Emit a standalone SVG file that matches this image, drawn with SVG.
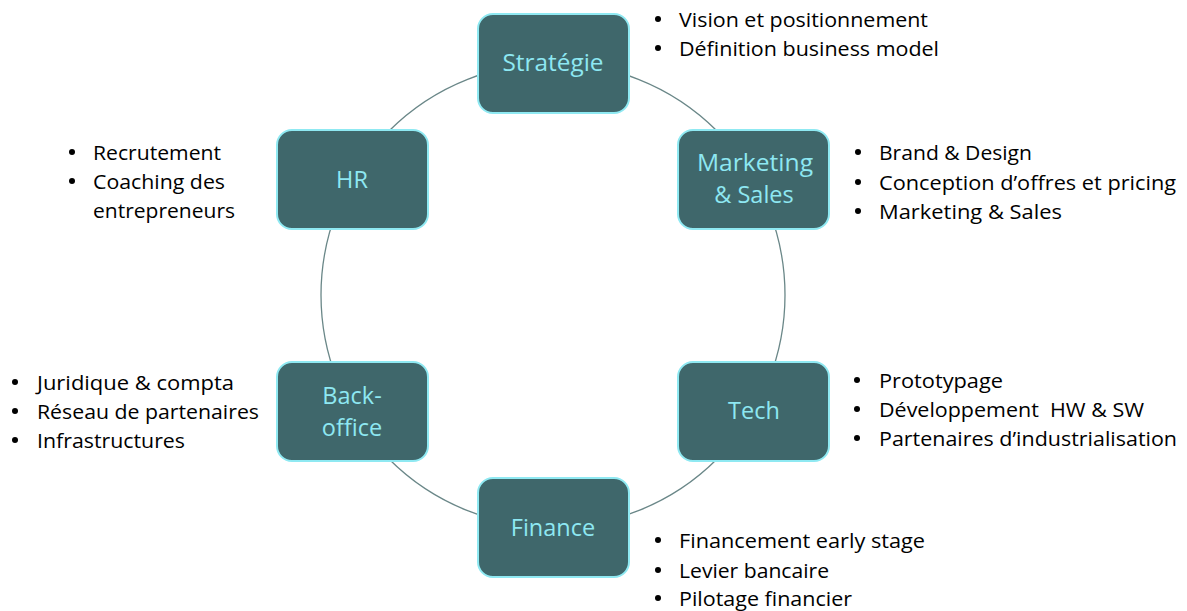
<svg xmlns="http://www.w3.org/2000/svg" width="1187" height="611" viewBox="0 0 1187 611">
<style>
.node rect{fill:#3f676b;stroke:#8fe9f2;stroke-width:2}
.node text{fill:#8ee8f2;font-family:"Open Sans","Noto Sans",sans-serif;font-size:23.5px;text-anchor:middle}
.b text{fill:#000;font-family:"Open Sans","Noto Sans",sans-serif;font-size:20.5px}
.b circle{fill:#000}
.conn{fill:none;stroke:#6a8788;stroke-width:1.3}
</style>
<rect width="1187" height="611" fill="#fff"/>
<g id="connectors">
<circle class="conn" cx="553" cy="295" r="232"/>
</g>
<g id="strategie" class="node">
<rect x="478" y="14" width="151" height="99" rx="15"/>
<text x="553" y="71" textLength="101" lengthAdjust="spacingAndGlyphs">Stratégie</text>
</g>
<g id="marketing" class="node">
<rect x="678" y="130" width="151" height="99" rx="15"/>
<text x="755" y="171" textLength="116" lengthAdjust="spacingAndGlyphs">Marketing</text>
<text x="754" y="203">&amp; Sales</text>
</g>
<g id="hr" class="node">
<rect x="277" y="130" width="151" height="99" rx="15"/>
<text x="352" y="188">HR</text>
</g>
<g id="backoffice" class="node">
<rect x="277" y="362" width="151" height="99" rx="15"/>
<text x="352" y="404">Back-</text>
<text x="352" y="436">office</text>
</g>
<g id="tech" class="node">
<rect x="678" y="362" width="151" height="99" rx="15"/>
<text x="754" y="419">Tech</text>
</g>
<g id="finance" class="node">
<rect x="478" y="478" width="151" height="99" rx="15"/>
<text x="553" y="536">Finance</text>
</g>
<g id="texts" class="b">
<circle cx="658" cy="19" r="3"/><text x="679" y="27" textLength="249" lengthAdjust="spacingAndGlyphs">Vision et positionnement</text>
<circle cx="658" cy="48" r="3"/><text x="679" y="56" textLength="260" lengthAdjust="spacingAndGlyphs">Définition business model</text>
<circle cx="858" cy="152" r="3"/><text x="879" y="160" textLength="153" lengthAdjust="spacingAndGlyphs">Brand &amp; Design</text>
<circle cx="858" cy="182" r="3"/><text x="879" y="190" textLength="297" lengthAdjust="spacingAndGlyphs">Conception d’offres et pricing</text>
<circle cx="858" cy="211" r="3"/><text x="879" y="219" textLength="183" lengthAdjust="spacingAndGlyphs">Marketing &amp; Sales</text>
<circle cx="72" cy="152" r="3"/><text x="93" y="160" textLength="128" lengthAdjust="spacingAndGlyphs">Recrutement</text>
<circle cx="72" cy="181" r="3"/><text x="93" y="189" textLength="132" lengthAdjust="spacingAndGlyphs">Coaching des</text>
<text x="93" y="218" textLength="142" lengthAdjust="spacingAndGlyphs">entrepreneurs</text>
<circle cx="15" cy="382" r="3"/><text x="37" y="390" textLength="197" lengthAdjust="spacingAndGlyphs">Juridique &amp; compta</text>
<circle cx="15" cy="411" r="3"/><text x="37" y="419" textLength="222" lengthAdjust="spacingAndGlyphs">Réseau de partenaires</text>
<circle cx="15" cy="440" r="3"/><text x="37" y="448" textLength="148" lengthAdjust="spacingAndGlyphs">Infrastructures</text>
<circle cx="857" cy="380" r="3"/><text x="879" y="388" textLength="124" lengthAdjust="spacingAndGlyphs">Prototypage</text>
<circle cx="857" cy="409" r="3"/><text x="879" y="417" xml:space="preserve" textLength="265" lengthAdjust="spacingAndGlyphs">Développement  HW &amp; SW</text>
<circle cx="857" cy="438" r="3"/><text x="879" y="446" textLength="298" lengthAdjust="spacingAndGlyphs">Partenaires d’industrialisation</text>
<circle cx="658" cy="540" r="3"/><text x="679" y="548" textLength="246" lengthAdjust="spacingAndGlyphs">Financement early stage</text>
<circle cx="658" cy="570" r="3"/><text x="679" y="578" textLength="150" lengthAdjust="spacingAndGlyphs">Levier bancaire</text>
<circle cx="658" cy="598" r="3"/><text x="679" y="606" textLength="173" lengthAdjust="spacingAndGlyphs">Pilotage financier</text>
</g>
</svg>
